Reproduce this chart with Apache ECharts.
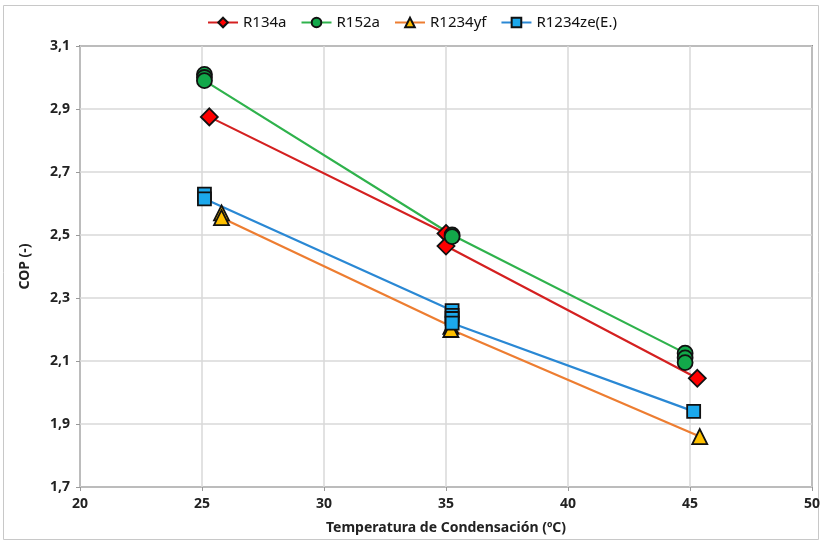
<!DOCTYPE html>
<html lang="es">
  <head>
    <meta charset="UTF-8" />
    <title>COP vs temperatura de condensación</title>
    <script src="https://cdn.jsdelivr.net/npm/echarts@6/dist/echarts.min.js"></script>
    <style>
      html, body { margin: 0; padding: 0; background: #fff; }
      #chart { width: 824px; height: 544px; }
    </style>
  </head>
  <body>
    <div id="chart"></div>
    <script>
      // datos (temperatura ºC, COP)
      var tempR134a = [25.3, 35.0, 35.0, 45.3];
      var copR134a = [2.875, 2.505, 2.465, 2.045];

      var tempR152a = [25.1, 25.1, 25.1, 35.25, 35.25, 44.8, 44.8, 44.8];
      var copR152a = [3.01, 3.0, 2.99, 2.5, 2.495, 2.125, 2.11, 2.095];

      var tempR1234yf = [25.8, 25.8, 35.2, 35.2, 45.4];
      var copR1234yf = [2.57, 2.555, 2.21, 2.2, 1.86];

      var tempR1234ze = [25.1, 25.1, 35.25, 35.25, 35.25, 35.25, 45.15];
      var copR1234ze = [2.63, 2.615, 2.26, 2.245, 2.235, 2.22, 1.94];

      var xTicks = { min: 20, max: 50, interval: 5 };
      var yTicks = { min: 1.7, max: 3.1, interval: 0.2 };

      function pares(xs, ys) {
        var out = [];
        for (var i = 0; i < xs.length; i++) {
          out.push([xs[i], ys[i]]);
        }
        return out;
      }

      var chart = echarts.init(document.getElementById('chart'));
      var fuente = 'Noto Sans';

      function serie(nombre, datos, colorLinea, relleno, simbolo, tam) {
        return {
          name: nombre,
          type: 'line',
          data: datos,
          symbol: simbolo,
          symbolSize: tam,
          showAllSymbol: true,
          color: colorLinea,
          lineStyle: { color: colorLinea, width: 2.2 },
          itemStyle: { color: relleno, borderColor: '#111', borderWidth: 1.8 },
          emphasis: { disabled: true },
          animation: false
        };
      }

      var option = {
        backgroundColor: '#fff',
        textStyle: { fontFamily: fuente },
        graphic: [
          {
            type: 'rect',
            shape: { x: 3.5, y: 5.5, width: 815, height: 534 },
            style: { fill: 'none', stroke: '#c8c8c8', lineWidth: 1 },
            silent: true
          }
        ],
        legend: {
          top: 10,
          left: 'center',
          itemWidth: 30,
          itemHeight: 12,
          itemGap: 14,
          selectedMode: false,
          textStyle: { fontFamily: fuente, fontSize: 15, color: '#111' },
          data: ['R134a', 'R152a', 'R1234yf', 'R1234ze(E.)']
        },
        grid: {
          left: 80,
          right: 12,
          top: 46,
          bottom: 57,
          show: true,
          borderColor: '#3a3a3a',
          borderWidth: 1.5
        },
        xAxis: {
          type: 'value',
          min: xTicks.min,
          max: xTicks.max,
          interval: xTicks.interval,
          name: 'Temperatura de Condensación (ºC)',
          nameLocation: 'middle',
          nameGap: 34,
          nameTextStyle: { fontFamily: fuente, fontSize: 14, fontWeight: 'bold', color: '#222' },
          axisLine: { show: false },
          axisTick: { show: true, length: 4, lineStyle: { color: '#999' } },
          axisLabel: { fontFamily: fuente, fontSize: 14, fontWeight: 'bold', color: '#222', margin: 10 },
          splitLine: { show: true, lineStyle: { color: '#d9d9d9', width: 1.5 } }
        },
        yAxis: {
          type: 'value',
          min: yTicks.min,
          max: yTicks.max,
          interval: yTicks.interval,
          name: 'COP (-)',
          nameLocation: 'middle',
          nameGap: 48,
          nameTextStyle: { fontFamily: fuente, fontSize: 14, fontWeight: 'bold', color: '#222' },
          axisLine: { show: false },
          axisTick: { show: true, length: 4, lineStyle: { color: '#999' } },
          axisLabel: {
            fontFamily: fuente,
            fontSize: 14,
            fontWeight: 'bold',
            color: '#222',
            margin: 10,
            formatter: function (v) {
              return v.toFixed(1).replace('.', ',');
            }
          },
          splitLine: { show: true, lineStyle: { color: '#d9d9d9', width: 1.5 } }
        },
        series: [
          serie('R134a', pares(tempR134a, copR134a), '#d42020', '#ff0000', 'diamond', 17),
          serie('R152a', pares(tempR152a, copR152a), '#2fb24c', '#12a84a', 'circle', 15),
          serie('R1234yf', pares(tempR1234yf, copR1234yf), '#ed7d31', '#ffc000', 'triangle', 15),
          serie('R1234ze(E.)', pares(tempR1234ze, copR1234ze), '#2a88d4', '#1ba8ec', 'rect', 13)
        ]
      };

      chart.setOption(option);
    </script>
  </body>
</html>
